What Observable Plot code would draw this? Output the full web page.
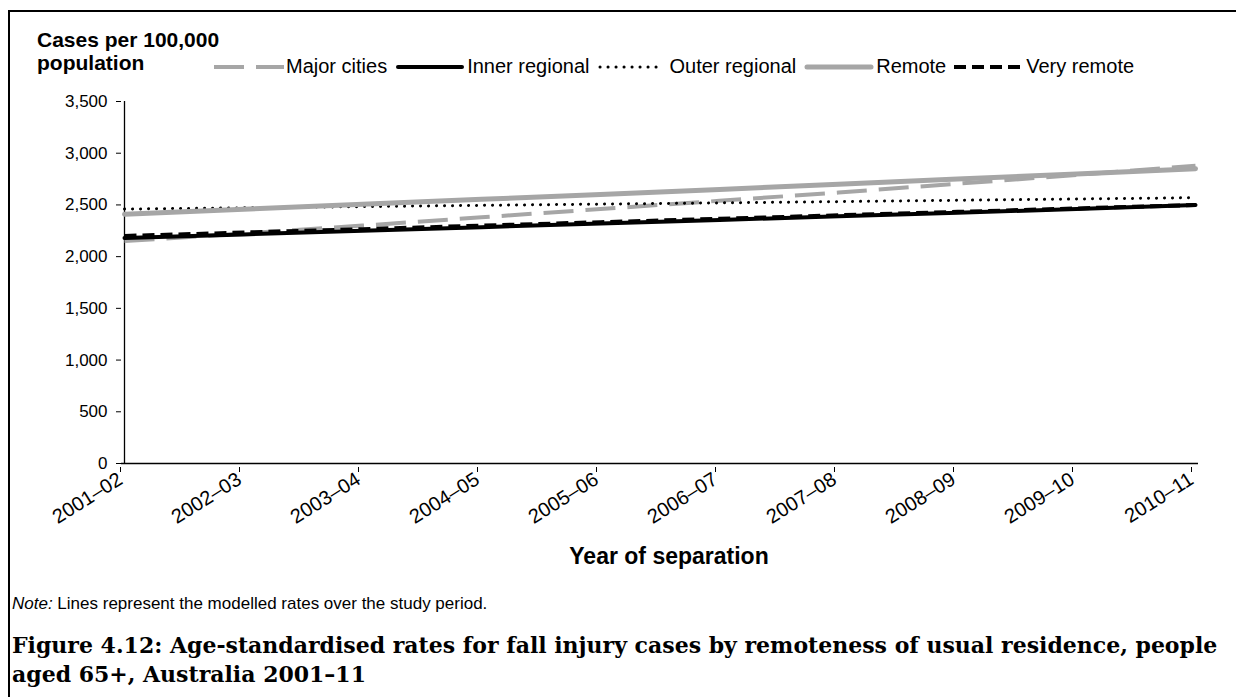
<!DOCTYPE html>
<html>
<head>
<meta charset="utf-8">
<script src="https://cdn.jsdelivr.net/npm/d3@7"></script>
<script src="https://cdn.jsdelivr.net/npm/@observablehq/plot@0.6"></script>
<style>
  html, body { margin: 0; padding: 0; background: #fff; }
  body { width: 1236px; height: 697px; position: relative; overflow: hidden; font-family: "Liberation Sans", Arial, sans-serif; }
  #frame { position: absolute; left: 8px; top: 10px; width: 1300px; height: 800px; border-left: 2px solid #000; border-top: 2px solid #000; box-sizing: border-box; }
  #chart { position: absolute; left: 0; top: 0; }
  #chart svg g[aria-label="x-axis tick label"] text { font-size: 20px; }
  #chart svg g[aria-label="y-axis tick label"] text { font-size: 17px; }
  #ytitle { position: absolute; left: 37px; top: 28px; font-weight: bold; font-size: 21px; line-height: 23px; color: #000; }
  #legend { position: absolute; left: 214px; top: 55px; display: flex; align-items: center; font-size: 20px; color: #000; white-space: nowrap; }
  #legend .item { display: flex; align-items: center; margin-right: 8px; }
  #legend svg { margin-right: 2px; }
  #xtitle { position: absolute; left: 0; width: 1338px; top: 543px; text-align: center; font-weight: bold; font-size: 23px; }
  #note { position: absolute; left: 12px; top: 594px; font-size: 17px; }
  #caption { position: absolute; left: 12px; top: 631px; font-family: "DejaVu Serif", serif; font-weight: bold; font-size: 22px; line-height: 29px; white-space: nowrap; }
</style>
</head>
<body>
<div id="frame"></div>
<div id="chart"></div>
<div id="ytitle">Cases per 100,000<br>population</div>
<div id="legend"></div>
<div id="xtitle">Year of separation</div>
<div id="note"><i>Note:</i> Lines represent the modelled rates over the study period.</div>
<div id="caption">Figure 4.12: Age-standardised rates for fall injury cases by remoteness of usual residence, people<br>aged 65+, Australia 2001–11</div>
<script>
// ---- Data ----
const years = ["2001–02","2002–03","2003–04","2004–05","2005–06","2006–07","2007–08","2008–09","2009–10","2010–11"];
const seriesNames = ["Major cities","Inner regional","Outer regional","Remote","Very remote"];
const majorCities   = [2150, 2225, 2300, 2380, 2460, 2540, 2620, 2705, 2790, 2880];
const innerRegional = [2180, 2215, 2250, 2285, 2320, 2355, 2390, 2425, 2460, 2500];
const outerRegional = [2460, 2472, 2484, 2496, 2508, 2520, 2532, 2545, 2557, 2570];
const remote        = [2410, 2458, 2506, 2554, 2602, 2650, 2700, 2750, 2800, 2850];
const veryRemote    = [2200, 2233, 2266, 2300, 2333, 2366, 2400, 2433, 2466, 2500];
const yTicks = [0, 500, 1000, 1500, 2000, 2500, 3000, 3500];

const seriesValues = [majorCities, innerRegional, outerRegional, remote, veryRemote];
const styles = {
  "Major cities":   {stroke: "#a6a6a6", strokeWidth: 4, strokeDasharray: "30,12", strokeLinecap: "butt"},
  "Inner regional": {stroke: "#000000", strokeWidth: 4, strokeLinecap: "round"},
  "Outer regional": {stroke: "#000000", strokeWidth: 3, strokeDasharray: "0.1,7.9", strokeLinecap: "round"},
  "Remote":         {stroke: "#a6a6a6", strokeWidth: 5, strokeLinecap: "round"},
  "Very remote":    {stroke: "#000000", strokeWidth: 4, strokeDasharray: "12,6", strokeLinecap: "butt"}
};

const data = seriesNames.flatMap((name, i) => years.map((yr, j) => ({series: name, year: yr, value: seriesValues[i][j]})));

const lineMarks = seriesNames.map(name =>
  Plot.line(data.filter(d => d.series === name), {x: "year", y: "value", ...styles[name]})
);

const chart = Plot.plot({
  width: 1236,
  height: 580,
  marginLeft: 121,
  marginRight: 38,
  marginTop: 101,
  marginBottom: 117,
  style: {fontFamily: "'Liberation Sans', Arial, sans-serif", fontSize: "17px", color: "#000", background: "transparent", overflow: "visible"},
  x: {type: "point", domain: years, padding: 0},
  y: {domain: [0, 3500]},
  marks: [
    Plot.axisY(yTicks, {tickSize: 5, tickPadding: 9, tickFormat: d3.format(","), label: null, stroke: "#000"}),
    Plot.axisX({tickSize: 5, tickPadding: 5, tickRotate: -32, label: null, dx: -4, dy: 4}),
    Plot.ruleY([0], {stroke: "#000", strokeWidth: 1.3}),
    Plot.ruleX([years[0]], {y1: 0, y2: 3500, stroke: "#000", strokeWidth: 1.3}),
    ...lineMarks
  ]
});
document.getElementById("chart").appendChild(chart);

// ---- Legend ----
const legend = d3.select("#legend");
seriesNames.forEach(name => {
  const s = styles[name];
  const item = legend.append("div").attr("class", "item");
  const svg = item.append("svg").attr("width", 70).attr("height", 12);
  svg.append("line").attr("x1", s.strokeLinecap === "round" ? 3 : 0).attr("x2", s.strokeLinecap === "round" ? 67 : 70)
    .attr("y1", 6).attr("y2", 6)
    .attr("stroke", s.stroke).attr("stroke-width", s.strokeWidth)
    .attr("stroke-dasharray", s.strokeDasharray || null)
    .attr("stroke-linecap", s.strokeLinecap);
  item.append("span").text(name);
});
</script>
</body>
</html>
